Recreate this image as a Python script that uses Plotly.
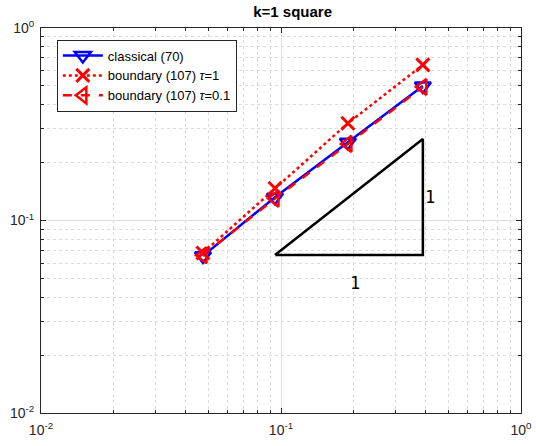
import plotly.graph_objects as go

h = [0.0473, 0.0944, 0.19, 0.39]
err_classical = [0.0655, 0.132, 0.255, 0.50]
err_tau1 = [0.0678, 0.147, 0.32, 0.643]
err_tau01 = [0.0660, 0.130, 0.250, 0.494]

tri_x = [0.0944, 0.39, 0.39, 0.0944]
tri_y = [0.0662, 0.0662, 0.265, 0.0662]

major_vals = [0.01, 0.1, 1]
major_text = ["10<sup>-2</sup>", "10<sup>-1</sup>", "10<sup>0</sup>"]
minor_vals = [m * d for d in (0.01, 0.1) for m in range(2, 10)]

fig = go.Figure()
fig.add_trace(go.Scatter(x=tri_x, y=tri_y, mode="lines", line=dict(color="black", width=2.5),
                         showlegend=False, hoverinfo="skip"))
fig.add_trace(go.Scatter(x=h, y=err_classical, mode="lines+markers", name="classical (70)",
                         line=dict(color="#0000ff", width=2.5),
                         marker=dict(symbol="triangle-down-open", size=14, color="#0000ff",
                                     line=dict(width=2.5, color="#0000ff"))))
fig.add_trace(go.Scatter(x=h, y=err_tau1, mode="lines+markers", name="boundary (107) <i>τ</i>=1",
                         line=dict(color="#ff0000", width=2.5, dash="dot"),
                         marker=dict(symbol="x-thin-open", size=13, color="#ff0000",
                                     line=dict(width=3, color="#ff0000"))))
fig.add_trace(go.Scatter(x=h, y=err_tau01, mode="lines+markers", name="boundary (107) <i>τ</i>=0.1",
                         line=dict(color="#ff0000", width=2.5, dash="dash"),
                         marker=dict(symbol="triangle-left-open", size=14, color="#ff0000",
                                     line=dict(width=2.5, color="#ff0000"))))

fig.add_annotation(x=-0.692, y=-1.325, xref="x", yref="y", text="1", showarrow=False,
                   font=dict(family="DejaVu Sans Mono", size=17, color="black"))
fig.add_annotation(x=-0.379, y=-0.878, xref="x", yref="y", text="1", showarrow=False,
                   font=dict(family="DejaVu Sans Mono", size=17, color="black"))

axis_common = dict(
    type="log", showline=True, linecolor="#262626", linewidth=1, mirror="allticks",
    ticks="inside", ticklen=5, tickcolor="#262626", tickmode="array",
    tickvals=major_vals, ticktext=major_text, automargin=False,
    showgrid=True, gridcolor="#e0e0e0", gridwidth=1, zeroline=False,
    tickfont=dict(family="Liberation Sans", size=14, color="#262626"),
    minor=dict(tickmode="array", tickvals=minor_vals, ticks="inside", ticklen=3,
               tickcolor="#262626", showgrid=True,
               gridcolor="#dcdcdc", griddash="dot", gridwidth=1),
)
fig.update_xaxes(range=[-2, 0], ticklabelstandoff=4, **axis_common)
fig.update_yaxes(range=[-2, 0], ticklabelstandoff=3, **axis_common)

fig.update_layout(
    width=536, height=446,
    margin=dict(l=41, r=15, t=28, b=33, autoexpand=False),
    paper_bgcolor="white", plot_bgcolor="white",
    title=dict(text="<b>k=1 square</b>", x=281 / 536, xref="paper", xanchor="center",
               yref="container", y=1 - 12 / 446, yanchor="middle",
               font=dict(family="Liberation Sans", size=15, color="black")),
    legend=dict(x=0.033, y=0.97, xanchor="left", yanchor="top", bgcolor="white",
                bordercolor="#262626", borderwidth=1,
                font=dict(family="Liberation Sans", size=13, color="black"),
                tracegroupgap=0, itemwidth=40),
    font=dict(family="Liberation Sans"),
)

fig.write_html("out.html", config={"displayModeBar": False},
               post_script="document.body.style.margin='0';")
